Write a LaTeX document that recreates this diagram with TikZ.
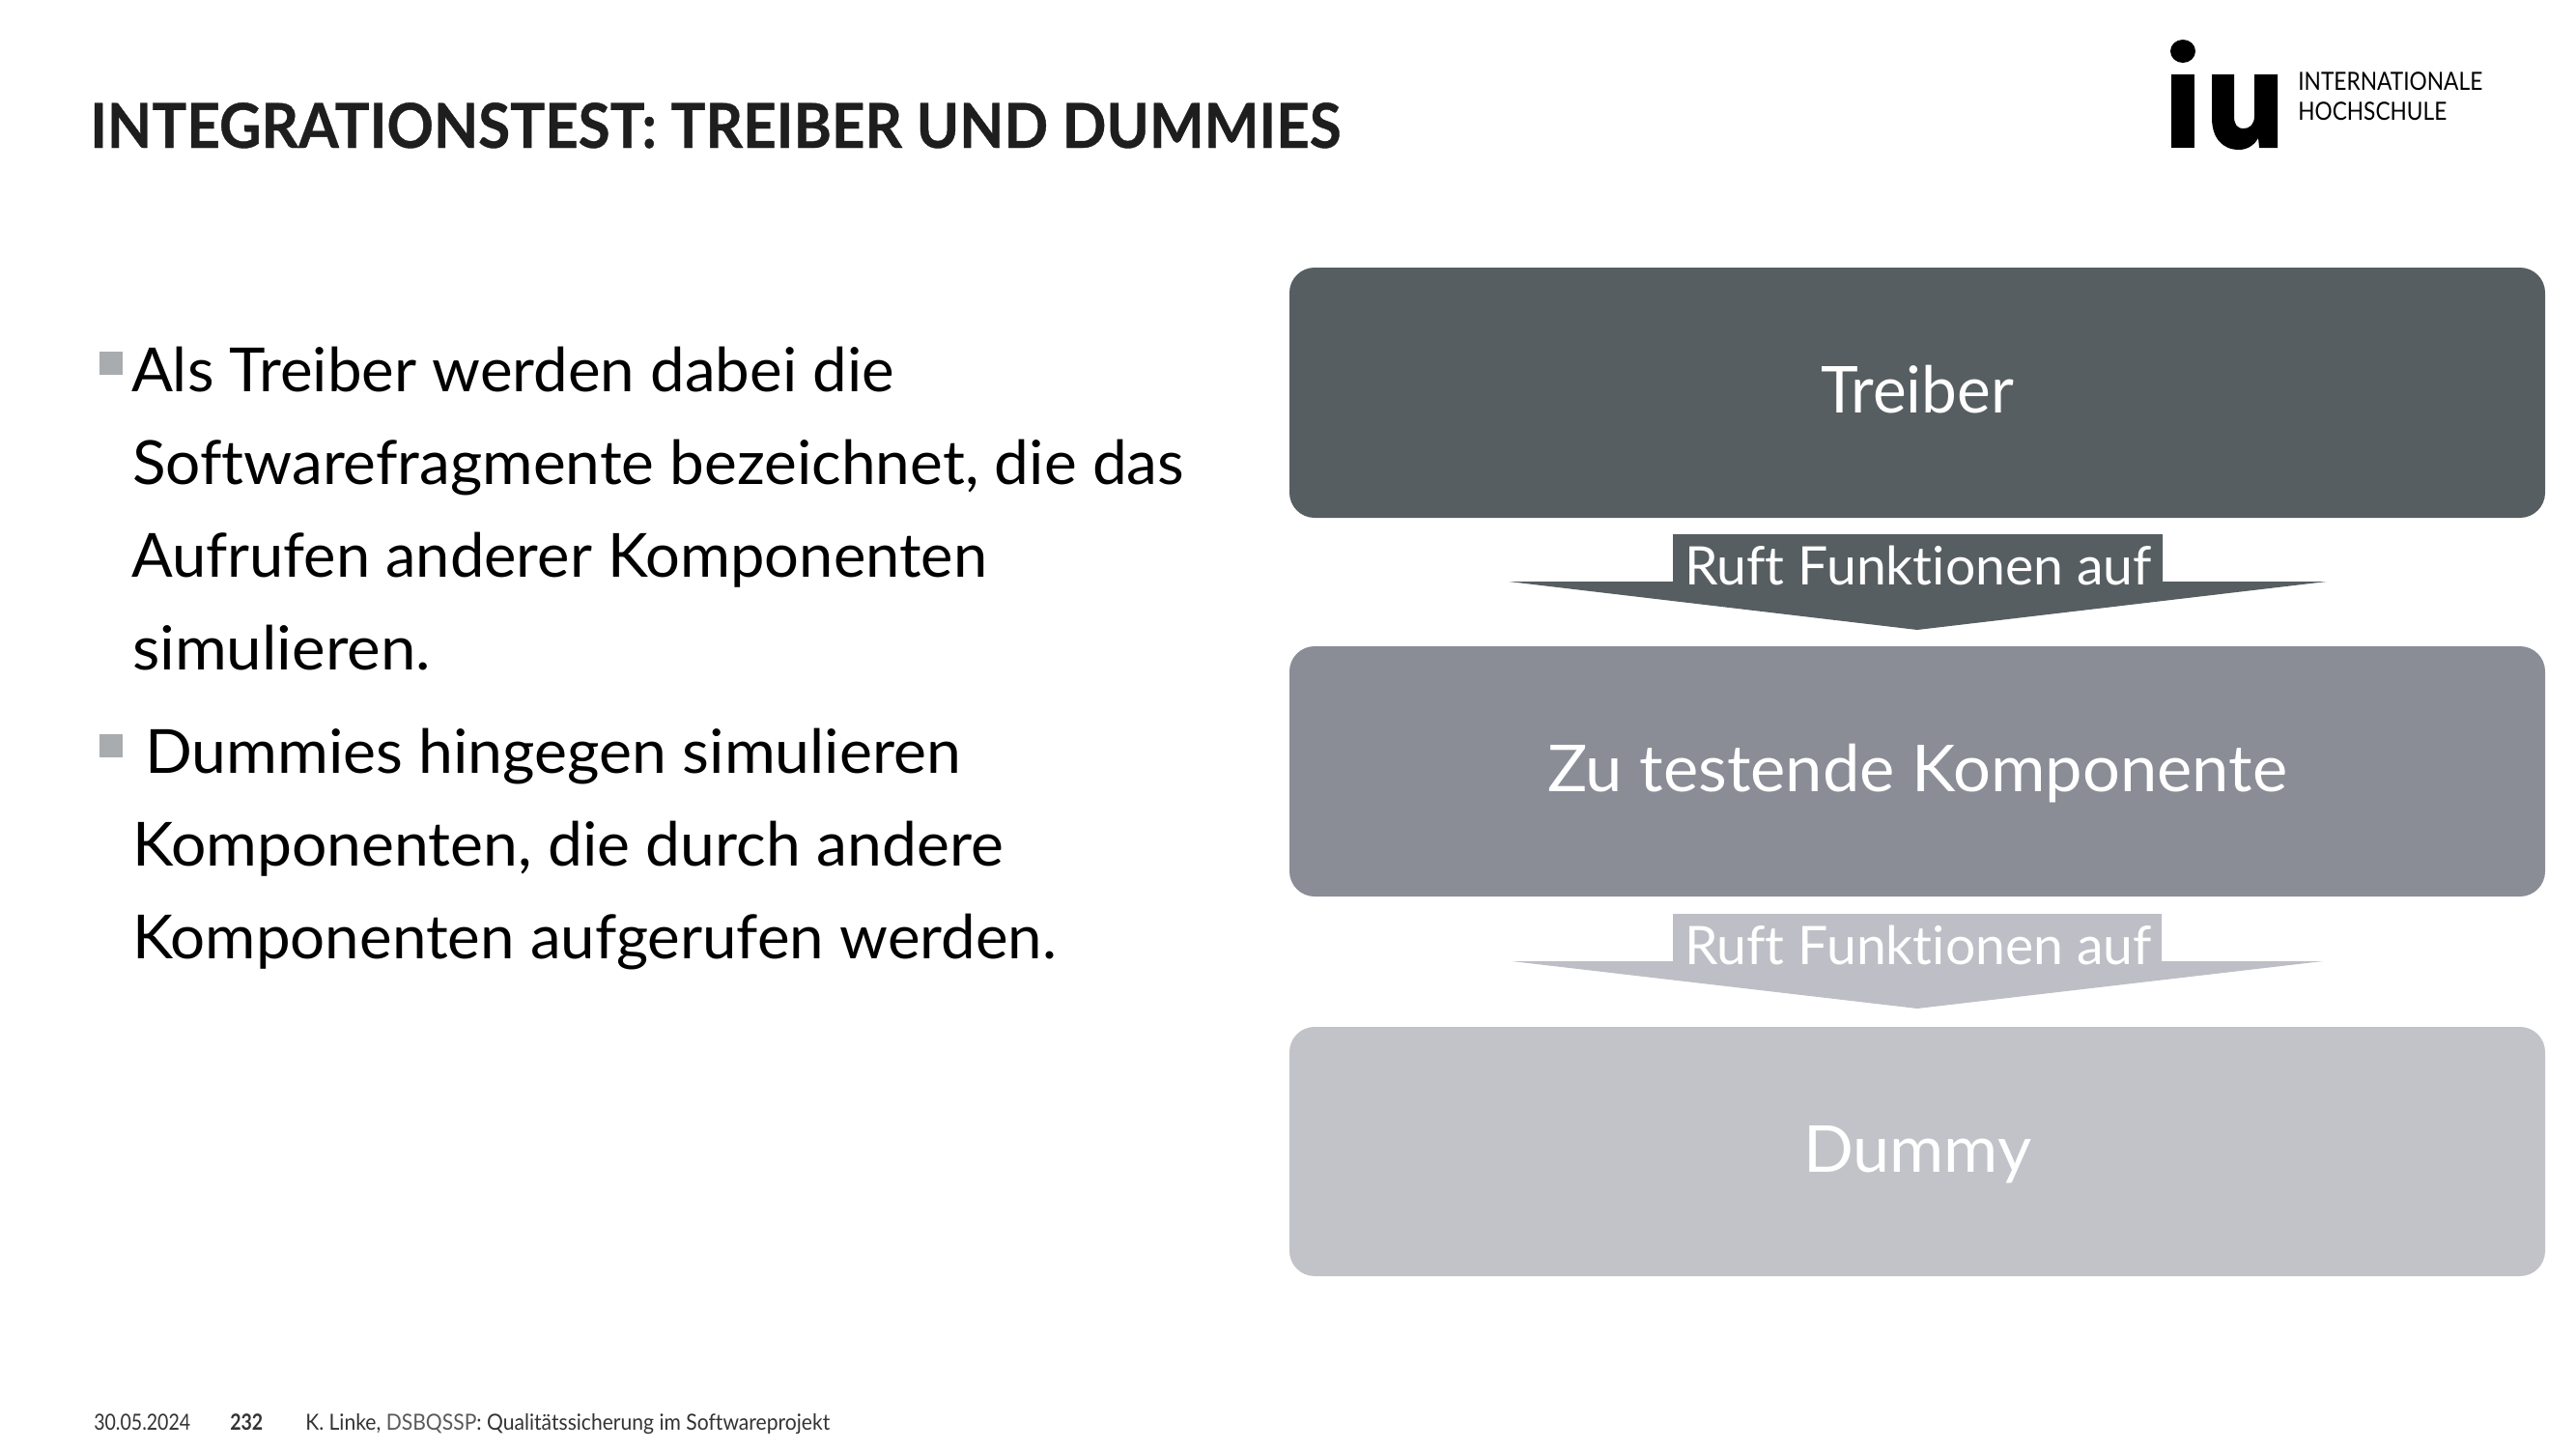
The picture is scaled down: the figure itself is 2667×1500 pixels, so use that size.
\documentclass[tikz,border=0pt]{standalone}
\usepackage{fontspec}
\usepackage{graphicx}
\setmainfont[Ligatures=NoCommon]{Lato}
\newfontfamily\titlefont[Ligatures=NoCommon,FakeBold=0.6]{Lato Bold}
\definecolor{cdark}{HTML}{565E61}
\definecolor{cmid}{HTML}{8A8D96}
\definecolor{clight}{HTML}{C2C2C9}
\definecolor{carrow}{HTML}{BEBEC6}
\definecolor{cbullet}{HTML}{A9ACAF}
\definecolor{ctitle}{HTML}{1E1E1E}
\definecolor{cfoot}{HTML}{333333}
\definecolor{cfootb}{HTML}{5A5A5A}
% text scaled horizontally to a given width in px (1px = .75pt)
\newcommand{\fitw}[2]{\resizebox{#1\dimexpr.75pt\relax}{\height}{#2}}
\newcommand{\fsz}[1]{\fontsize{#1\dimexpr.75pt\relax}{#1\dimexpr.9pt\relax}\selectfont}
\tikzset{
  line/.style={anchor=base west,inner sep=0pt,outer sep=0pt,text=black,font=\fsz{63}},
  stufe/.style={rounded corners=19.5pt,draw=none},
  boxlabel/.style={anchor=base,inner sep=0pt,text=white,font=\fsz{67}},
  calllabel/.style={anchor=base,inner sep=0pt,text=white,font=\fsz{55}},
  foot/.style={anchor=base west,inner sep=0pt,text=cfoot,font=\fsz{23}},
  logotext/.style={anchor=base west,inner sep=0pt,text=black,font=\fsz{26}},
  bullet/.style={fill=cbullet,draw=none}
}
\begin{document}
\begin{tikzpicture}[x=.75pt,y=-.75pt]
\useasboundingbox (0,0) rectangle (2667,1500);
% title
\node[anchor=base west,inner sep=0pt,text=ctitle,font=\titlefont\fsz{64}] (title) at (93,153) {\fitw{1295}{INTEGRATIONSTEST: TREIBER UND DUMMIES}};
% logo
\fill[black] (2260,53) ellipse [x radius=13,y radius=12];
\fill[black] (2248,77) rectangle (2272,153);
\fill[black] (2290,77) -- (2290,122) .. controls (2290,143) and (2301,155) .. (2318,155)
  .. controls (2327,155) and (2334,150) .. (2338,143) -- (2339,153) -- (2358,153) -- (2358,77) -- (2334,77)
  -- (2334,120) .. controls (2334,129) and (2329,133) .. (2323,133)
  .. controls (2316,133) and (2313,129) .. (2313,120) -- (2313,77) -- cycle;
\node[logotext] (logo1) at (2379,93) {\fitw{191}{INTERNATIONALE}};
\node[logotext] (logo2) at (2379,124) {\fitw{154}{HOCHSCHULE}};
% bullets and text
\fill[bullet] (103,364) rectangle (127,388);
\fill[bullet] (103,760) rectangle (127,784);
\node[line] (l1) at (136,405) {\fitw{790}{Als Treiber werden dabei die}};
\node[line] (l2) at (137,501) {\fitw{1089}{Softwarefragmente bezeichnet, die das}};
\node[line] (l3) at (136,597) {\fitw{886}{Aufrufen anderer Komponenten}};
\node[line] (l4) at (137,693) {\fitw{309}{simulieren.}};
\node[line] (l5) at (150,800) {\fitw{845}{Dummies hingegen simulieren}};
\node[line] (l6) at (137,896) {\fitw{902}{Komponenten, die durch andere}};
\node[line] (l7) at (137,992) {\fitw{957}{Komponenten aufgerufen werden.}};
% boxes
\fill[stufe,fill=cdark] (1335,277) rectangle (2635,536);
\fill[stufe,fill=cmid] (1335,669) rectangle (2635,928);
\fill[stufe,fill=clight] (1335,1063) rectangle (2635,1321);
\node[boxlabel] (b1) at (1985,427) {\fitw{200}{Treiber}};
\node[boxlabel] (b2) at (1985,819) {\fitw{766}{Zu testende Komponente}};
\node[boxlabel] (b3) at (1985,1213) {\fitw{236}{Dummy}};
% block arrows
\fill[cdark] (1732,553) -- (2239,553) -- (2239,602) -- (2409,602) -- (1985,652) -- (1562,602) -- (1732,602) -- cycle;
\fill[carrow] (1732,946) -- (2238,946) -- (2238,995) -- (2405,995) -- (1985,1044) -- (1565,995) -- (1732,995) -- cycle;
\node[calllabel] (c1) at (1986,605) {\fitw{484}{Ruft Funktionen auf}};
\node[calllabel] (c2) at (1986,998) {\fitw{484}{Ruft Funktionen auf}};
% footer
\node[foot] (f1) at (97,1480) {\fitw{100}{30.05.2024}};
\node[foot,font=\fsz{23}\bfseries] (f2) at (238,1480) {\fitw{34}{232}};
\node[foot] (f3) at (316,1480) {\fitw{543}{K. Linke, \textcolor{cfootb}{DSBQSSP}: Qualitätssicherung im Softwareprojekt}};
\end{tikzpicture}
\end{document}
